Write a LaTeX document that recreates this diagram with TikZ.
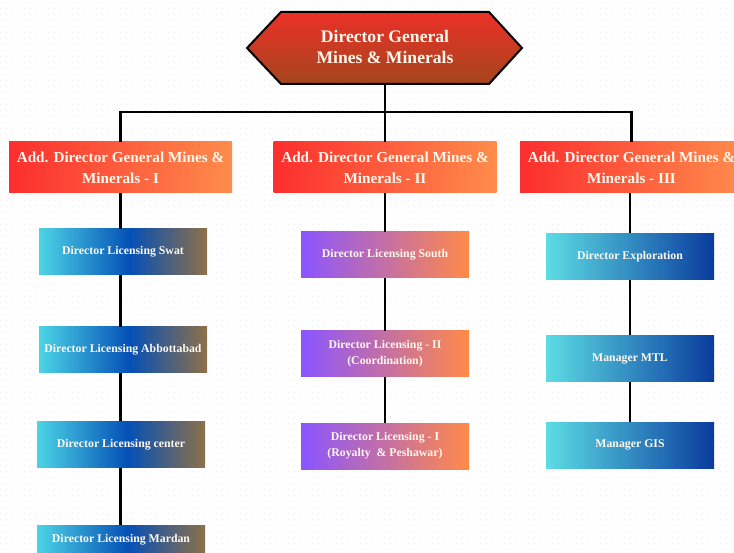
\documentclass[tikz,border=0pt]{standalone}
\usepackage{fontspec}
\setmainfont{Liberation Serif}
\usetikzlibrary{calc}

% colours of the chart
\definecolor{txtcream}{HTML}{FFF8EC}
\definecolor{dgtop}{HTML}{EC3028}
\definecolor{dgbot}{HTML}{A4461E}
\definecolor{adleft}{HTML}{FC2E2E}
\definecolor{adright}{HTML}{FF8C4C}
\definecolor{swcyan}{HTML}{4CD4E6}
\definecolor{swblue}{HTML}{0550B6}
\definecolor{swbrown}{HTML}{8E7048}
\definecolor{soviolet}{HTML}{8A55FF}
\definecolor{soorange}{HTML}{FF8A48}
\definecolor{excyan}{HTML}{5CDCE4}
\definecolor{exblue}{HTML}{0A3C9E}
\definecolor{griddot}{HTML}{ECECEC}

% three-stop horizontal blend for the first column
\pgfdeclarehorizontalshading{westblend}{100bp}{%
  color(0bp)=(swcyan); color(25bp)=(swcyan); color(52bp)=(swblue);
  color(75bp)=(swbrown); color(100bp)=(swbrown)}

\tikzset{
  link/.style={line width=2.4pt, black},
  chartext/.style={text=txtcream, font=\bfseries, align=center, inner sep=0pt},
  addbox/.style={chartext, font=\fontsize{15.2}{21}\selectfont\bfseries,
    minimum width=223pt, minimum height=51pt,
    left color=adleft, right color=adright},
  unitbox/.style={chartext, font=\fontsize{11.8}{16}\selectfont\bfseries,
    minimum width=168pt, minimum height=46pt},
  westbox/.style={unitbox, shading=westblend},
  southbox/.style={unitbox, left color=soviolet, right color=soorange},
  eastbox/.style={unitbox, left color=excyan, right color=exblue},
}

\begin{document}
\begin{tikzpicture}[x=1pt, y=-1pt]
\useasboundingbox (0,0) rectangle (734,553);
\fill[white] (0,0) rectangle (734,553);

% faint dotted background grid
\foreach \gy in {3,9,...,553}
  \draw[griddot, line width=1pt, dash pattern=on 1pt off 5pt] (0,\gy) -- (734,\gy);

% head of the office: hexagonal banner
\path[draw=black, line width=2pt, top color=dgtop, bottom color=dgbot]
  (247,48) -- (281,12) -- (489,12) -- (522,48) -- (489,84) -- (281,84) -- cycle;
\node[chartext, font=\fontsize{17.6}{21}\selectfont\bfseries,
      minimum height=72pt] (dg) at (385,47)
  {Director General\\Mines \& Minerals};

% additional directors general
\node[addbox] (ad1) at (120.5,167.5) {Add. Director General Mines \&\\Minerals - I};
\node[addbox] (ad2) at (385,167.5) {Add. Director General Mines \&\\Minerals - II};
\node[addbox] (ad3) at (631.5,167.5) {Add. Director General Mines \&\\Minerals - III};

% first wing
\node[westbox] (swat) at (123,252) {Director Licensing Swat};
\node[westbox] (abbt) at (123,350) {Director Licensing Abbottabad};
\node[westbox] (cntr) at (121,444.5) {Director Licensing center};
\node[westbox] (mrdn) at (121,548) {\raisebox{20pt}{Director Licensing Mardan}};

% second wing
\node[southbox] (sout) at (385,255) {Director Licensing South};
\node[southbox] (coor) at (385,354) {Director Licensing - II\\(Coordination)};
\node[southbox] (roya) at (385,446) {Director Licensing - I\\(Royalty~ \& Peshawar)};

% third wing
\node[eastbox] (expl) at (630,256.5) {Director Exploration};
\node[eastbox] (mtl) at (630,358.5) {Manager MTL};
\node[eastbox] (gis) at (630,445) {Manager GIS};

% reporting lines
\coordinate (bus) at (385,112);
\draw[link] (dg.south) -- (bus);
\draw[link] (ad1.north) -- (ad1.north |- bus) -- (ad3.north |- bus) -- (ad3.north);
\draw[link] (ad2.north) -- (ad2.north |- bus);

\draw[link] (ad1.south) -- (ad1.south |- swat.north);
\draw[link] (ad1.south |- swat.south) -- (ad1.south |- abbt.north);
\draw[link] (ad1.south |- abbt.south) -- (ad1.south |- cntr.north);
\draw[link] (ad1.south |- cntr.south) -- (ad1.south |- mrdn.north);

\draw[link] (ad2.south) -- (sout.north);
\draw[link] (sout.south) -- (coor.north);
\draw[link] (coor.south) -- (roya.north);

\draw[link] (ad3.south -| expl.north) -- (expl.north);
\draw[link] (expl.south) -- (mtl.north);
\draw[link] (mtl.south) -- (gis.north);
\end{tikzpicture}
\end{document}
